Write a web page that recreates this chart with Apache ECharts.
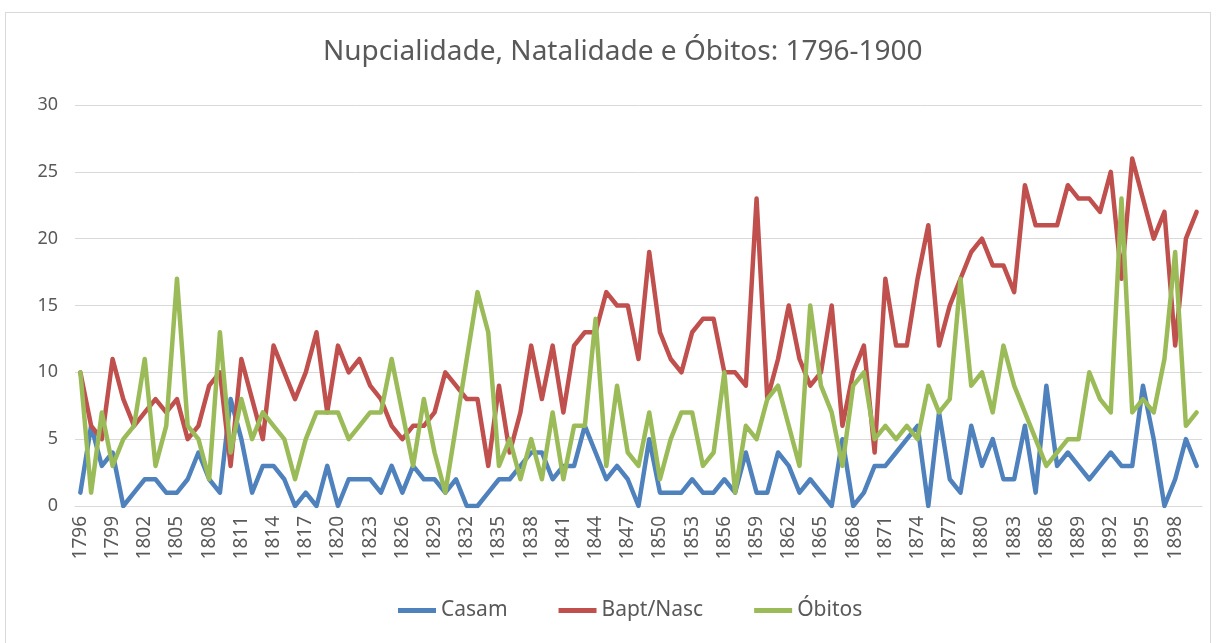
<!DOCTYPE html>
<html>
<head>
<meta charset="utf-8">
<script src="https://cdn.jsdelivr.net/npm/echarts@6/dist/echarts.min.js"></script>
<style>
  html, body { margin: 0; padding: 0; background: #fff; }
  #frame { position: absolute; left: 5px; top: 12px; width: 1206px; height: 640px; border: 1px solid #d9d9d9; box-sizing: border-box; }
  #chart { position: absolute; left: 0; top: 0; width: 1219px; height: 643px; }
</style>
</head>
<body>
<div id="frame"></div>
<div id="chart"></div>
<script>
// Years 1796..1900
const years = [];
for (let y = 1796; y <= 1900; y++) years.push(String(y));

const casam = [
  1, 6, 3, 4, 0, 1, 2, 2, 1, 1,
  2, 4, 2, 1, 8, 5, 1, 3, 3, 2,
  0, 1, 0, 3, 0, 2, 2, 2, 1, 3,
  1, 3, 2, 2, 1, 2, 0, 0, 1, 2,
  2, 3, 4, 4, 2, 3, 3, 6, 4, 2,
  3, 2, 0, 5, 1, 1, 1, 2, 1, 1,
  2, 1, 4, 1, 1, 4, 3, 1, 2, 1,
  0, 5, 0, 1, 3, 3, 4, 5, 6, 0,
  7, 2, 1, 6, 3, 5, 2, 2, 6, 1,
  9, 3, 4, 3, 2, 3, 4, 3, 3, 9,
  5, 0, 2, 5, 3
];

const baptNasc = [
  10, 6, 5, 11, 8, 6, 7, 8, 7, 8,
  5, 6, 9, 10, 3, 11, 8, 5, 12, 10,
  8, 10, 13, 7, 12, 10, 11, 9, 8, 6,
  5, 6, 6, 7, 10, 9, 8, 8, 3, 9,
  4, 7, 12, 8, 12, 7, 12, 13, 13, 16,
  15, 15, 11, 19, 13, 11, 10, 13, 14, 14,
  10, 10, 9, 23, 8, 11, 15, 11, 9, 10,
  15, 6, 10, 12, 4, 17, 12, 12, 17, 21,
  12, 15, 17, 19, 20, 18, 18, 16, 24, 21,
  21, 21, 24, 23, 23, 22, 25, 17, 26, 23,
  20, 22, 12, 20, 22
];

const obitos = [
  10, 1, 7, 3, 5, 6, 11, 3, 6, 17,
  6, 5, 2, 13, 4, 8, 5, 7, 6, 5,
  2, 5, 7, 7, 7, 5, 6, 7, 7, 11,
  7, 3, 8, 4, 1, 6, 11, 16, 13, 3,
  5, 2, 5, 2, 7, 2, 6, 6, 14, 3,
  9, 4, 3, 7, 2, 5, 7, 7, 3, 4,
  10, 1, 6, 5, 8, 9, 6, 3, 15, 9,
  7, 3, 9, 10, 5, 6, 5, 6, 5, 9,
  7, 8, 17, 9, 10, 7, 12, 9, 7, 5,
  3, 4, 5, 5, 10, 8, 7, 23, 7, 8,
  7, 11, 19, 6, 7
];

const textColor = '#595959';
const font = 'Noto Sans';

const chart = echarts.init(document.getElementById('chart'));

function lineSeries(name, data, color) {
    return {
        name: name,
        type: 'line',
        data: data,
        symbol: 'none',
        lineStyle: { color: color, width: 4.5, join: 'round', cap: 'round' },
        itemStyle: { color: color },
        emphasis: { disabled: true }
    };
}

chart.setOption({
    animation: false,
    title: {
        text: 'Nupcialidade, Natalidade e Óbitos: 1796-1900',
        left: 318,
        top: 33,
        textStyle: { color: textColor, fontFamily: font, fontSize: 28, fontWeight: 'normal' }
    },
    legend: {
        bottom: 17,
        left: 393,
        icon: 'rect',
        itemWidth: 38,
        itemHeight: 5,
        itemGap: 51,
        textStyle: { color: textColor, fontFamily: font, fontSize: 21 },
        data: ['Casam', 'Bapt/Nasc', 'Óbitos']
    },
    grid: { left: 75, right: 17, top: 105, bottom: 137 },
    xAxis: {
        type: 'category',
        data: years,
        boundaryGap: true,
        axisLine: { lineStyle: { color: '#d9d9d9', width: 1 } },
        axisTick: { show: false },
        axisLabel: {
            interval: 2,
            rotate: 90,
            margin: 10,
            color: textColor,
            fontFamily: font,
            fontSize: 19
        }
    },
    yAxis: {
        type: 'value',
        min: 0,
        max: 30,
        interval: 5,
        axisLine: { show: false },
        axisTick: { show: false },
        splitLine: { lineStyle: { color: '#d9d9d9', width: 1 } },
        axisLabel: { margin: 17, color: textColor, fontFamily: font, fontSize: 18 }
    },
    series: [
        lineSeries('Casam', casam, '#4f81bd'),
        lineSeries('Bapt/Nasc', baptNasc, '#c0504d'),
        lineSeries('Óbitos', obitos, '#9bbb59')
    ]
});
</script>
</body>
</html>
